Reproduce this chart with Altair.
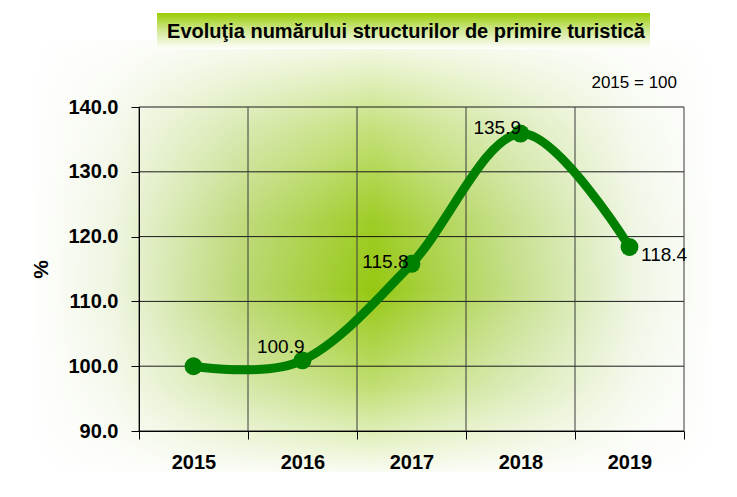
import altair as alt
import pandas as pd

# ---- data ----
years = ["2015", "2016", "2017", "2018", "2019"]
values = [100.0, 100.9, 115.8, 135.9, 118.4]
labels = ["", "100.9", "115.8", "135.9", "118.4"]
y_ticks = [90, 100, 110, 120, 130, 140]
title_text = "Evoluţia numărului  structurilor de primire turistică"
note_text = "2015 = 100"
y_title = "%"

# ---- layout / style ----
W, H = 545, 324
FONT = "Liberation Sans, Arial, sans-serif"
GREEN = "#008000"

df = pd.DataFrame({"year": years, "value": values, "label": labels})
grid_df = pd.DataFrame({"v": y_ticks})
one = pd.DataFrame({"k": [0]})

xscale = alt.Scale(type="band", paddingInner=0, paddingOuter=0, domain=years)
yscale = alt.Scale(domain=[90, 140], nice=False, zero=False)

x_axis = alt.Axis(
    title=None, labelFont=FONT, labelFontSize=20, labelFontWeight="bold",
    labelColor="black", labelAngle=0, tickBand="extent", ticks=True, tickSize=8,
    tickColor="black", domainColor="black", grid=False, labelPadding=13, zindex=1,
)
y_axis = alt.Axis(
    title=y_title, titleFont=FONT, titleFontSize=21, titleFontWeight="bold",
    titleColor="black", titlePadding=16, values=y_ticks, format=".1f",
    labelFont=FONT, labelFontSize=20, labelFontWeight="bold", labelColor="black",
    ticks=True, tickSize=8, tickColor="black", domainColor="black", grid=False,
    labelPadding=13, zindex=1,
)

X = alt.X("year:O", scale=xscale, axis=x_axis, sort=years)
Y = alt.Y("value:Q", scale=yscale, axis=y_axis)

# background: horizontal green band, faded vertically with a white overlay
bg_h = alt.Chart(one).mark_rect(
    fill=alt.Gradient(
        gradient="linear", x1=0, y1=0, x2=1, y2=0,
        stops=[
            alt.GradientStop(offset=0.0, color="#ffffff"),
            alt.GradientStop(offset=0.12, color="#eef5e0"),
            alt.GradientStop(offset=0.3, color="#bcd977"),
            alt.GradientStop(offset=0.5, color="#96c812"),
            alt.GradientStop(offset=0.7, color="#c3de86"),
            alt.GradientStop(offset=0.88, color="#eef5e2"),
            alt.GradientStop(offset=1.0, color="#ffffff"),
        ],
    )
).encode(x=alt.value(-108), x2=alt.value(W + 32), y=alt.value(-67), y2=alt.value(H + 41))

bg_v = alt.Chart(one).mark_rect(
    fill=alt.Gradient(
        gradient="linear", x1=0, y1=0, x2=0, y2=1,
        stops=[
            alt.GradientStop(offset=0.0, color="rgba(255,255,255,0.92)"),
            alt.GradientStop(offset=0.2, color="rgba(255,255,255,0.45)"),
            alt.GradientStop(offset=0.42, color="rgba(255,255,255,0.08)"),
            alt.GradientStop(offset=0.58, color="rgba(255,255,255,0.0)"),
            alt.GradientStop(offset=0.8, color="rgba(255,255,255,0.4)"),
            alt.GradientStop(offset=1.0, color="rgba(255,255,255,0.95)"),
        ],
    )
).encode(x=alt.value(-108), x2=alt.value(W + 32), y=alt.value(-67), y2=alt.value(H + 41))

# title box
title_box = alt.Chart(one).mark_rect(
    fill=alt.Gradient(
        gradient="linear", x1=0, y1=0, x2=0, y2=1,
        stops=[
            alt.GradientStop(offset=0.0, color="#99cc00"),
            alt.GradientStop(offset=0.45, color="#cde68a"),
            alt.GradientStop(offset=1.0, color="#ffffff"),
        ],
    )
).encode(x=alt.value(18), x2=alt.value(511), y=alt.value(-94), y2=alt.value(-58))

title_mark = alt.Chart(one).mark_text(
    text=title_text, font=FONT, fontSize=20, fontWeight="bold", color="black",
    align="center", baseline="alphabetic",
).encode(x=alt.value(267), y=alt.value(-69))

note_mark = alt.Chart(one).mark_text(
    text=note_text, font=FONT, fontSize=17, color="black",
    align="right", baseline="alphabetic",
).encode(x=alt.value(538), y=alt.value(-19))

# grid lines
hgrid = alt.Chart(grid_df).mark_rule(color="#1a1a1a", strokeWidth=1).encode(
    y=alt.Y("v:Q", scale=yscale, axis=y_axis), x=alt.value(0), x2=alt.value(W)
)
vgrid = alt.Chart(df).mark_rule(color="#3a3a3a", strokeWidth=1).encode(
    x=alt.X("year:O", scale=xscale, axis=x_axis, sort=years, bandPosition=0),
    y=alt.value(0), y2=alt.value(H),
)
vgrid_end = alt.Chart(one).mark_rule(color="#3a3a3a", strokeWidth=1).encode(
    x=alt.value(W), y=alt.value(0), y2=alt.value(H)
)

line = alt.Chart(df).mark_line(
    color=GREEN, strokeWidth=9, interpolate="cardinal", strokeCap="round"
).encode(x=X, y=Y)
points = alt.Chart(df).mark_point(
    filled=True, color=GREEN, size=320, opacity=1, shape="circle"
).encode(x=X, y=Y)


def lab(year, align, dx, dy):
    return alt.Chart(df).transform_filter(alt.datum.year == year).mark_text(
        font=FONT, fontSize=19, color="black", align=align,
        baseline="alphabetic", dx=dx, dy=dy,
    ).encode(x=X, y=Y, text="label:N")


chart = alt.layer(
    bg_h, bg_v, title_box, title_mark, note_mark, hgrid, vgrid, vgrid_end,
    line, points,
    lab("2016", "right", 2, -7),
    lab("2017", "right", -3, 4.5),
    lab("2018", "right", 0.5, 0),
    lab("2019", "left", 11.5, 14),
).properties(
    width=W, height=H, padding={"left": 22, "top": 5, "right": 5, "bottom": 5}
).configure_view(stroke=None).configure(background="white")

chart.save("out.html", embed_options={"renderer": "svg", "actions": False})
